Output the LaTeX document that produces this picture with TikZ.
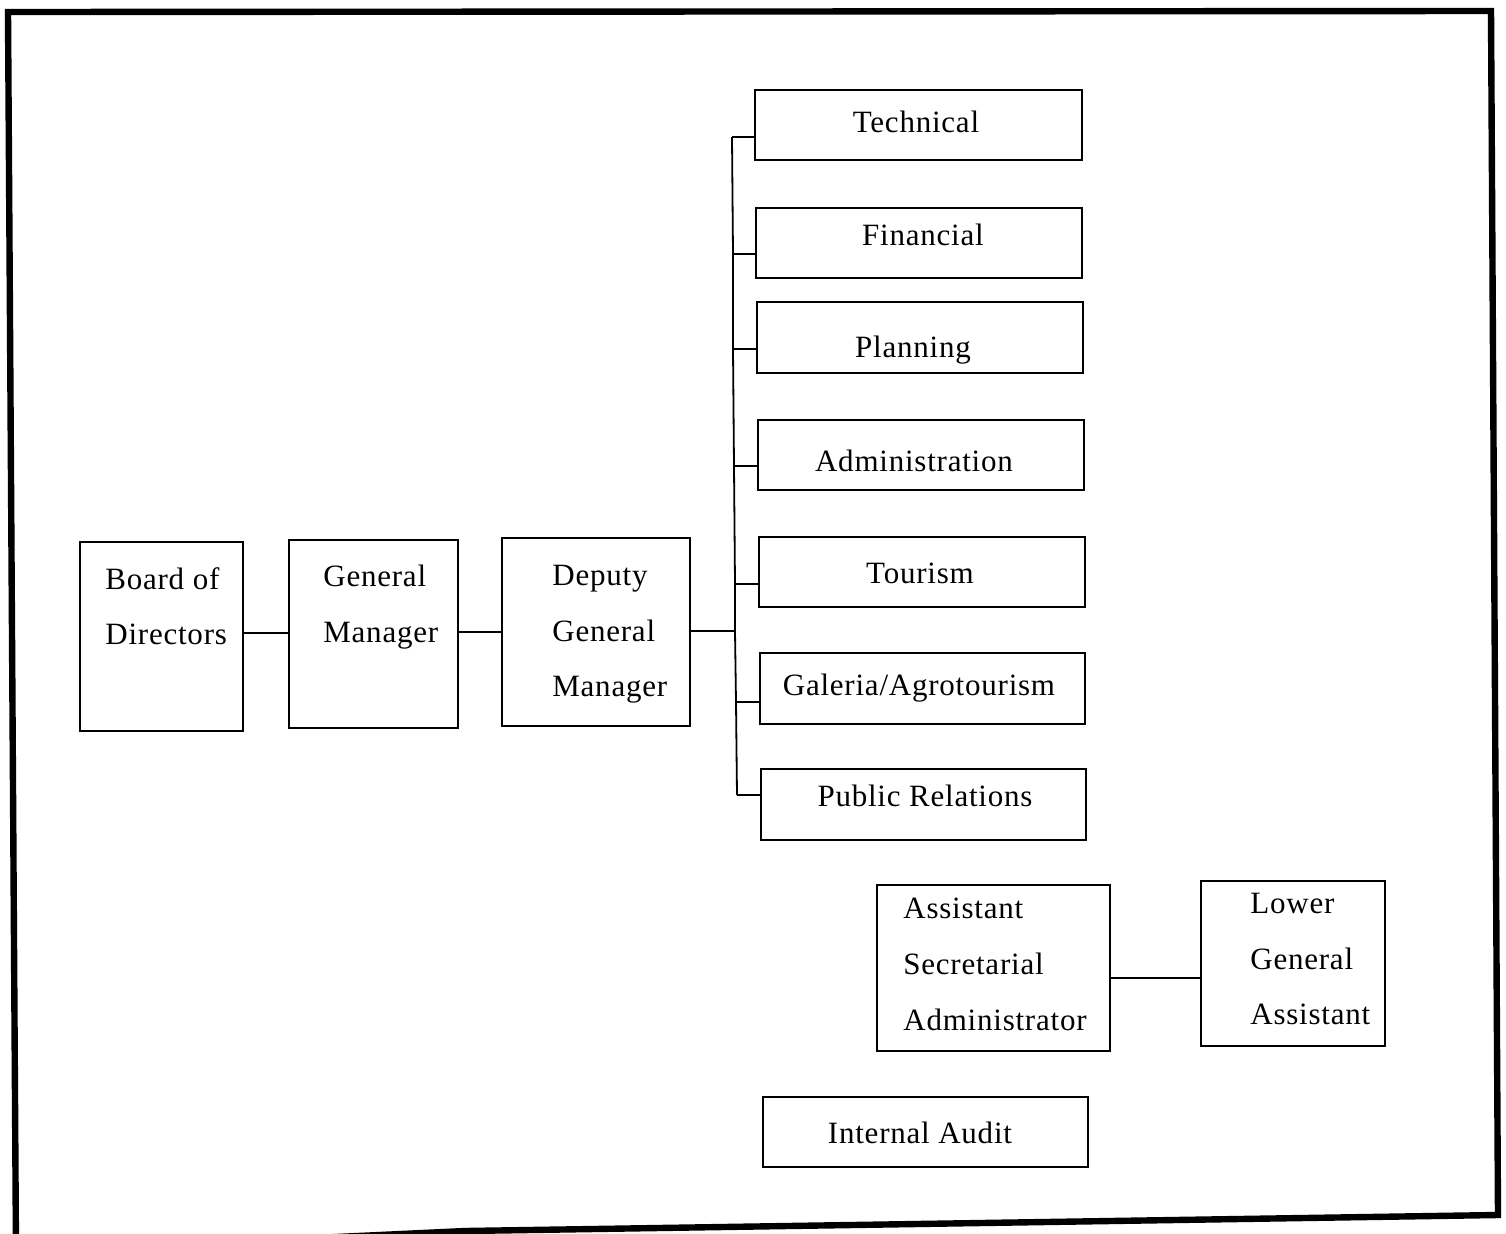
\documentclass[tikz,border=0pt]{standalone}
\usepackage{fontspec}
\setmainfont[LetterSpace=2.5]{Liberation Serif}
\newcommand\orgfont{\fontsize{15.5}{27.8}\selectfont}
% rectangle node given by its corners: name, x1, y1, x2, y2
\newcommand\orgbox[5]{%
  \pgfmathsetmacro\bw{(#4-#2)*0.5}%
  \pgfmathsetmacro\bh{(#5-#3)*0.5}%
  \node[box, minimum width=\bw pt, minimum height=\bh pt] (#1) at ({(#2+#4)/2},{(#3+#5)/2}) {};}
\begin{document}
\begin{tikzpicture}[x=0.5pt,y=-0.5pt,
  box/.style={draw, line width=1pt, inner sep=0pt, outer sep=0pt},
  lbl/.style={inner sep=0pt, font=\orgfont, text height=0.66em, text depth=0pt, yshift=-2pt},
  stack/.style={inner sep=0pt, font=\orgfont, align=left, anchor=north west},
  link/.style={line width=0.9pt},
  frame/.style={line width=3.2pt, line join=miter}]
\useasboundingbox (0,0) rectangle (1506,1233);
\clip (0,0) rectangle (1506,1233);

% outer frame
\coordinate (fTL) at (8,12);
\coordinate (fTR) at (1491,11);
\coordinate (fBR) at (1498,1215);
\coordinate (fBM) at (465,1231);
\coordinate (fBL) at (16,1252);
\draw[frame] (fTL) -- (fTR) -- (fBR) -- (fBM) -- (fBL) -- cycle;

% management chain
\orgbox{bod}{80}{542}{243}{731}
\orgbox{gm}{289}{540}{458}{728}
\orgbox{dgm}{502}{538}{690}{726}
\node[stack] (bodT) at (105,567) {Board of\\Directors};
\node[stack] (gmT) at (323,565) {General\\Manager};
\node[stack] (dgmT) at (552,565) {Deputy\\General\\Manager};

% departments
\orgbox{tech}{755}{90}{1082}{160}
\orgbox{fin}{756}{208}{1082}{278}
\orgbox{plan}{757}{302}{1083}{373}
\orgbox{adm}{758}{420}{1084}{490}
\orgbox{tour}{759}{537}{1085}{607}
\orgbox{gal}{760}{653}{1085}{724}
\orgbox{pr}{761}{769}{1086}{840}
\node[lbl] (techT) at (916,122) {Technical};
\node[lbl] (finT) at (923,235) {Financial};
\node[lbl] (planT) at (913,347) {Planning};
\node[lbl] (admT) at (914,461) {Administration};
\node[lbl] (tourT) at (920,573) {Tourism};
\node[lbl] (galT) at (919,685) {Galeria/Agrotourism};
\node[lbl] (prT) at (925,796) {Public Relations};

% assistants and audit
\orgbox{asa}{877}{885}{1110}{1051}
\orgbox{lga}{1201}{881}{1385}{1046}
\orgbox{audit}{763}{1097}{1088}{1167}
\node[stack] (asaT) at (903,898) {Assistant\\Secretarial\\Administrator};
\node[stack] (lgaT) at (1250,893) {Lower\\General\\Assistant};
\node[lbl] (auditT) at (920,1133) {Internal Audit};

% connectors of the chain
\coordinate (j1) at (266,633);
\coordinate (j2) at (480,632);
\draw[link] (bod.east |- j1) -- (gm.west |- j1);
\draw[link] (gm.east |- j2) -- (dgm.west |- j2);

% department trunk
\coordinate (t1) at (732,137);
\coordinate (t2) at (733,254);
\coordinate (t3) at (733,349);
\coordinate (t4) at (734,466);
\coordinate (t5) at (735,584);
\coordinate (tm) at (735,631);
\coordinate (t6) at (736,702);
\coordinate (t7) at (737,795);
\draw[link] (t1) -- (t2) -- (t3) -- (t4) -- (t5) -- (tm) -- (t6) -- (t7);
\draw[link] (dgm.east |- tm) -- (tm);
\draw[link] (t1) -- (tech.west |- t1);
\draw[link] (t2) -- (fin.west |- t2);
\draw[link] (t3) -- (plan.west |- t3);
\draw[link] (t4) -- (adm.west |- t4);
\draw[link] (t5) -- (tour.west |- t5);
\draw[link] (t6) -- (gal.west |- t6);
\draw[link] (t7) -- (pr.west |- t7);

% assistant link
\coordinate (j3) at (1155,978);
\draw[link] (asa.east |- j3) -- (lga.west |- j3);
\end{tikzpicture}
\end{document}
